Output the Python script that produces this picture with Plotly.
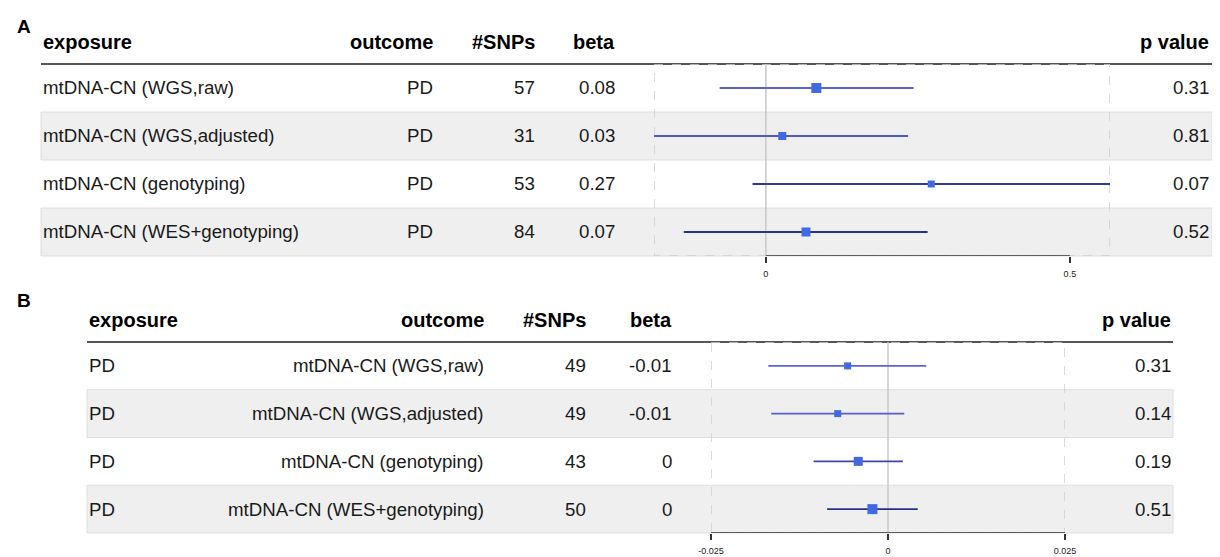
import plotly.graph_objects as go

# ---------------- data ----------------
exposure_A = ["mtDNA-CN (WGS,raw)", "mtDNA-CN (WGS,adjusted)", "mtDNA-CN (genotyping)", "mtDNA-CN (WES+genotyping)"]
outcome_A = ["PD", "PD", "PD", "PD"]
snps_A = [57, 31, 53, 84]
beta_txt_A = ["0.08", "0.03", "0.27", "0.07"]
est_A = [0.083, 0.027, 0.272, 0.066]
lo_A = [-0.076, -0.184, -0.022, -0.135]
hi_A = [0.243, 0.234, 0.566, 0.266]
p_A = ["0.31", "0.81", "0.07", "0.52"]
ticks_A = [0, 0.5]

exposure_B = ["PD", "PD", "PD", "PD"]
outcome_B = ["mtDNA-CN (WGS,raw)", "mtDNA-CN (WGS,adjusted)", "mtDNA-CN (genotyping)", "mtDNA-CN (WES+genotyping)"]
snps_B = [49, 49, 43, 50]
beta_txt_B = ["-0.01", "-0.01", "0", "0"]
est_B = [-0.0057, -0.0071, -0.0042, -0.0022]
lo_B = [-0.0169, -0.0165, -0.0105, -0.0086]
hi_B = [0.0054, 0.0023, 0.0021, 0.0042]
p_B = ["0.31", "0.14", "0.19", "0.51"]
ticks_B = [-0.025, 0, 0.025]
xlim_B = [-0.025, 0.025]

headers = ["exposure", "outcome", "#SNPs", "beta", "p value"]

# ---------------- styles ----------------
WIN_W, WIN_H = 1220, 557
OFF = 8  # page body margin
W, H = WIN_W - 2 * OFF, WIN_H - OFF
FONT = "Liberation Sans"
box_px_A = [10, 8, 7, 9]
box_px_B = [7, 7, 9, 10]
line_col_A = ["#5b63d0", "#4f59c8", "#2f3a99", "#28328c"]
line_col_B = ["#5b63d0", "#5560cc", "#3b46ad", "#27318a"]
SQ = "#4169E1"


def px(x):
    return (x - OFF) / W


def py(y):
    return 1 - (y - OFF) / H


panels = [
    dict(key="A", xa="x", ya="y", exposure=exposure_A, outcome=outcome_A, snps=snps_A, beta=beta_txt_A,
         est=est_A, lo=lo_A, hi=hi_A, p=p_A, ticks=ticks_A, xlim=[min(lo_A), max(hi_A)],
         top=64, bottom=256, left=41, right=1212, fx=(654, 1110),
         cols=dict(exp=41, out=435, snp=537, beta=617, p=1211), head_y=42, lab=(15, 26),
         sizes=box_px_A, lcols=line_col_A),
    dict(key="B", xa="x2", ya="y2", exposure=exposure_B, outcome=outcome_B, snps=snps_B, beta=beta_txt_B,
         est=est_B, lo=lo_B, hi=hi_B, p=p_B, ticks=ticks_B, xlim=xlim_B,
         top=342, bottom=533, left=87, right=1173, fx=(711, 1065),
         cols=dict(exp=87, out=486, snp=588, beta=674, p=1173), head_y=320, lab=(15, 300),
         sizes=box_px_B, lcols=line_col_B),
]

fig = go.Figure()
shapes = []
annotations = []

for k, P in enumerate(panels):
    sfx = "" if k == 0 else "2"
    xa, ya = P["xa"], P["ya"]
    n = len(P["est"])
    rows = list(range(1, n + 1))
    rowh = (P["bottom"] - P["top"]) / n

    for i in range(n):
        if i % 2 == 1:
            shapes.append(dict(type="rect", xref="paper", yref="paper", layer="below",
                               x0=px(P["left"]), x1=px(P["right"]),
                               y0=py(P["top"] + rowh * (i + 1)), y1=py(P["top"] + rowh * i),
                               fillcolor="#efefef", line=dict(color="#dedede", width=1)))
    shapes.append(dict(type="line", xref="paper", yref="paper", layer="below",
                       x0=px(P["left"]), x1=px(P["right"]), y0=py(P["top"]), y1=py(P["top"]),
                       line=dict(color="#555555", width=2)))
    shapes.append(dict(type="line", xref=xa, yref=ya, layer="below",
                       x0=0, x1=0, y0=0.5, y1=n + 0.5, line=dict(color="#c8c8c8", width=1.5)))
    shapes.append(dict(type="rect", xref=xa, yref=ya, layer="below",
                       x0=P["xlim"][0], x1=P["xlim"][1], y0=0.5, y1=n + 0.5,
                       line=dict(color="#cfcfcf", width=1.5, dash="dash")))
    shapes.append(dict(type="line", xref=xa, yref=ya, layer="above",
                       x0=P["ticks"][0], x1=P["ticks"][-1], y0=n + 0.5, y1=n + 0.5,
                       line=dict(color="#333333", width=1.5)))

    for i in range(n):
        fig.add_trace(go.Scatter(x=[P["lo"][i], P["hi"][i]], y=[rows[i], rows[i]], mode="lines",
                                 line=dict(color=P["lcols"][i], width=1.8),
                                 xaxis=xa, yaxis=ya, showlegend=False, hoverinfo="skip"))
    fig.add_trace(go.Scatter(x=P["est"], y=rows, mode="markers",
                             marker=dict(symbol="square", size=P["sizes"], color=SQ, opacity=1,
                                         line=dict(width=0)),
                             xaxis=xa, yaxis=ya, showlegend=False))

    fig.update_layout(**{
        "xaxis" + sfx: dict(domain=[px(P["fx"][0]), px(P["fx"][1])], range=P["xlim"], anchor=ya,
                            showgrid=False, zeroline=False, showline=False, automargin=False,
                            tickmode="array", tickvals=P["ticks"], ticktext=[f"{t:g}" for t in P["ticks"]],
                            ticks="outside", ticklen=6, tickwidth=1.5, tickcolor="#333333",
                            ticklabelstandoff=3,
                            tickfont=dict(family=FONT, size=9, color="#222222")),
        "yaxis" + sfx: dict(domain=[py(P["bottom"]), py(P["top"])], range=[n + 0.5, 0.5], anchor=xa,
                            visible=False, showgrid=False, zeroline=False, automargin=False),
    })

    c = P["cols"]
    body = dict(family=FONT, size=18.7, color="#1a1a1a")
    for i in range(n):
        for txt, x, anc in [(P["exposure"][i], c["exp"], "left"), (P["outcome"][i], c["out"], "right"),
                            (str(P["snps"][i]), c["snp"], "right"), (P["beta"][i], c["beta"], "right"),
                            (P["p"][i], c["p"], "right")]:
            annotations.append(dict(text=txt, xref="paper", yref=ya, x=px(x), y=rows[i],
                                    xanchor=anc, yanchor="middle", showarrow=False, font=body))
    for txt, x, anc in zip(headers, [c["exp"], c["out"], c["snp"], c["beta"], c["p"]],
                           ["left", "right", "right", "right", "right"]):
        annotations.append(dict(text="<b>" + txt + "</b>", xref="paper", yref="paper", x=px(x), y=py(P["head_y"]),
                                xanchor=anc, yanchor="middle", showarrow=False,
                                font=dict(family=FONT, size=20, color="#000000")))
    annotations.append(dict(text="<b>" + P["key"] + "</b>", xref="paper", yref="paper",
                            x=px(P["lab"][0]), y=py(P["lab"][1]), xanchor="left", yanchor="middle",
                            showarrow=False, font=dict(family=FONT, size=19, color="#000000")))

fig.update_layout(template="none", width=W, height=H, margin=dict(l=0, r=0, t=0, b=0, pad=0),
                  paper_bgcolor="white", plot_bgcolor="rgba(0,0,0,0)",
                  shapes=shapes, annotations=annotations, showlegend=False)

fig.write_html("out.html")
